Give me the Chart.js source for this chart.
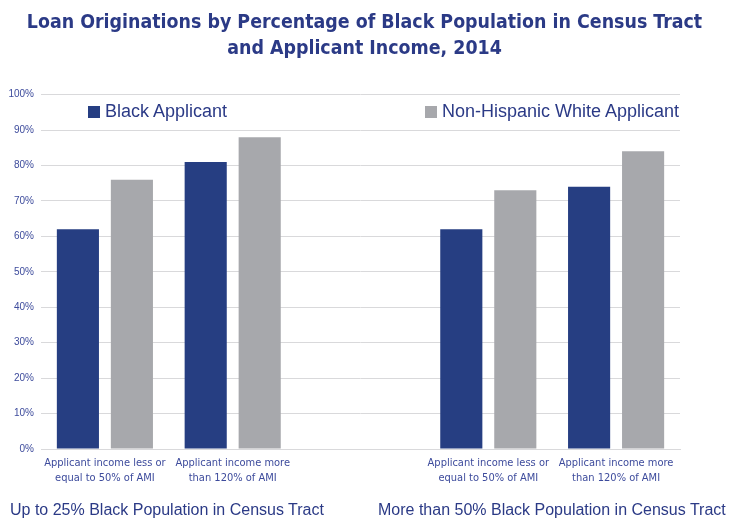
<!DOCTYPE html>
<html>
<head>
<meta charset="utf-8">
<script src="https://cdn.jsdelivr.net/npm/chart.js@4/dist/chart.umd.min.js"></script>
<style>
  html, body { margin: 0; padding: 0; background: #fff; }
  #wrap { position: relative; width: 729px; height: 519px; overflow: hidden; }
  #chart { position: absolute; left: 0; top: 0; }
  .lg { position: absolute; font: 18px "Liberation Sans", Arial, sans-serif; color: #2B3A86; white-space: nowrap; }
  .lg i { display: inline-block; width: 12px; height: 12px; margin-right: 5px; vertical-align: -1px; }
  .grp { position: absolute; font: 16px "Liberation Sans", Arial, sans-serif; color: #2B3A86; white-space: nowrap; }
</style>
</head>
<body>
<div id="wrap">
  <canvas id="chart" width="729" height="519"></canvas>
  <div class="lg" id="lg0" style="left:88px; top:101px;"><i></i><span></span></div>
  <div class="lg" id="lg1" style="left:425px; top:101px;"><i></i><span></span></div>
  <div class="grp" id="grp0" style="left:10px; top:501px;"></div>
  <div class="grp" id="grp1" style="left:378px; top:501px;"></div>
</div>
<script>
// ---- data ----
const TITLE = ['Loan Originations by Percentage of Black Population in Census Tract', 'and Applicant Income, 2014'];
const CATEGORIES = [
  ['Applicant income less or', 'equal to 50% of AMI'],
  ['Applicant income more', 'than 120% of AMI'],
  '',
  ['Applicant income less or', 'equal to 50% of AMI'],
  ['Applicant income more', 'than 120% of AMI']
];
const SERIES_NAMES = ['Black Applicant', 'Non-Hispanic White Applicant'];
const BLACK = [62, 81, null, 62, 74];
const WHITE = [76, 88, null, 73, 84];
const GROUP_LABELS = ['Up to 25% Black Population in Census Tract', 'More than 50% Black Population in Census Tract'];
const Y_TICKS = [0, 10, 20, 30, 40, 50, 60, 70, 80, 90, 100];

const NAVY = '#263E82', GREY = '#A7A8AC', TEXT = '#2B3A86', TICK = '#3D4B9C', GRID = '#D9D9DB';
const NARROW = '"Liberation Sans Narrow", "DejaVu Sans Condensed", Arial, sans-serif';

// legend + group captions (HTML overlays)
[NAVY, GREY].forEach((c, i) => {
  const el = document.getElementById('lg' + i);
  el.querySelector('i').style.background = c;
  el.querySelector('span').textContent = SERIES_NAMES[i];
});
GROUP_LABELS.forEach((t, i) => { document.getElementById('grp' + i).textContent = t; });

new Chart(document.getElementById('chart'), {
  type: 'bar',
  data: {
    labels: CATEGORIES,
    datasets: [
      { label: SERIES_NAMES[0], data: BLACK, backgroundColor: NAVY, categoryPercentage: 0.845, barPercentage: 0.78 },
      { label: SERIES_NAMES[1], data: WHITE, backgroundColor: GREY, categoryPercentage: 0.845, barPercentage: 0.78 }
    ]
  },
  options: {
    responsive: false, animation: false,
    layout: { padding: 0 },
    plugins: {
      legend: { display: false },
      tooltip: { enabled: false },
      title: {
        display: true, text: TITLE, color: TEXT,
        font: { family: NARROW, size: 19.4, weight: 'bold', lineHeight: 1.33 },
        padding: { top: 10, bottom: 33 }
      }
    },
    scales: {
      x: {
        grid: { display: false, drawTicks: false },
        border: { display: true, color: GRID },
        ticks: { color: TICK, font: { family: NARROW, size: 11, lineHeight: 1.35 }, padding: 7, maxRotation: 0, autoSkip: false },
        afterFit: (s) => { s.height = 70; }
      },
      y: {
        min: 0, max: 100,
        afterBuildTicks: (s) => { s.ticks = Y_TICKS.map(v => ({ value: v })); },
        grid: { color: GRID, drawTicks: false },
        border: { display: false },
        ticks: { color: TICK, font: { family: 'Arial, sans-serif', size: 10 }, padding: 7, callback: (v) => v + '%' },
        afterFit: (s) => { s.width = 41; }
      },
      // empty right-hand strip so the plot stops short of the edge while the title stays centred
      yRight: {
        type: 'linear', position: 'right', display: true,
        grid: { display: false, drawTicks: false }, border: { display: false }, ticks: { display: false },
        afterFit: (s) => { s.width = 49; }
      }
    }
  }
});
</script>
</body>
</html>
